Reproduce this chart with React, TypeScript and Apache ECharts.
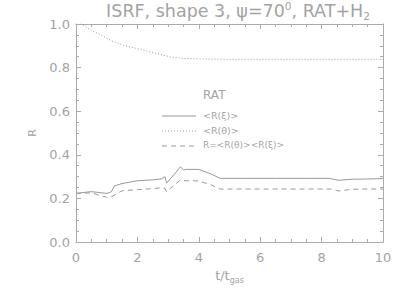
import React, { useEffect, useRef } from "react";
import * as echarts from "echarts";

const tXi = [0, 0.3, 0.5, 0.75, 1.0, 1.15, 1.25, 1.5, 2.0, 2.5, 2.8, 2.9, 2.95, 3.2, 3.4, 3.5, 3.6, 4.0, 4.4, 4.7, 5.5, 6.5, 7.5, 8.25, 8.55, 9.0, 9.5, 10];
const rXi = [0.223, 0.228, 0.231, 0.227, 0.223, 0.23, 0.257, 0.268, 0.281, 0.285, 0.29, 0.3, 0.27, 0.31, 0.345, 0.33, 0.333, 0.333, 0.312, 0.292, 0.292, 0.292, 0.292, 0.292, 0.283, 0.288, 0.289, 0.291];

const tTheta = [0, 0.15, 0.3, 0.5, 0.8, 1.2, 1.6, 2.1, 2.6, 3.1, 3.5, 4.0, 5, 6, 7, 8, 9, 10];
const rTheta = [1.02, 1.0, 0.99, 0.97, 0.95, 0.92, 0.9, 0.884, 0.866, 0.848, 0.842, 0.84, 0.838, 0.838, 0.838, 0.838, 0.838, 0.838];

const tR = [0, 0.3, 0.5, 0.75, 1.0, 1.2, 1.5, 2.0, 2.5, 2.8, 2.9, 2.95, 3.2, 3.4, 3.6, 4.0, 4.4, 4.7, 5.5, 6.5, 7.5, 8.3, 8.55, 9.0, 9.5, 10];
const rR = [0.223, 0.224, 0.226, 0.215, 0.205, 0.211, 0.235, 0.24, 0.245, 0.249, 0.245, 0.23, 0.262, 0.284, 0.281, 0.28, 0.262, 0.243, 0.243, 0.243, 0.243, 0.243, 0.234, 0.242, 0.243, 0.243];

const xTicks = [0, 2, 4, 6, 8, 10];
const yTicks = [0.0, 0.2, 0.4, 0.6, 0.8, 1.0];

const pairs = (t: number[], v: number[]) => t.map((x, i) => [x, v[i]]);

const AXC = "#ababab";
const TXT = "#a3a3a3";
const LINE = "#999999";
const FONT = "DejaVu Sans";

export default function App() {
  const ref = useRef<HTMLDivElement>(null);
  useEffect(() => {
    const chart = echarts.init(ref.current!, null, { renderer: "svg" });
    const baseAxis = {
      type: "value" as const,
      axisLine: { show: true, onZero: false, lineStyle: { color: AXC, width: 1 } },
      splitLine: { show: false },
      axisTick: { show: true, inside: true, length: 5, lineStyle: { color: AXC } },
      minorTick: { show: true, splitNumber: 4, length: 3, lineStyle: { color: AXC } },
    };
    chart.setOption({
      animation: false,
      backgroundColor: "#ffffff",
      grid: { left: 76, right: 24, top: 24, bottom: 49 },
      xAxis: [
        {
          ...baseAxis,
          min: 0,
          max: 10,
          interval: 2,
          axisLabel: { color: TXT, fontFamily: FONT, fontSize: 13, margin: 9 },
          name: "{a|t/t}{b|gas}",
          nameLocation: "middle",
          nameGap: 24,
          nameTextStyle: {
            rich: {
              a: { fontFamily: FONT, fontSize: 13, color: TXT, lineHeight: 18 },
              b: { fontFamily: FONT, fontSize: 8, color: TXT, verticalAlign: "bottom", lineHeight: 8 },
            },
          },
        },
        { ...baseAxis, position: "top", min: 0, max: 10, interval: 2, axisLabel: { show: false } },
      ],
      yAxis: [
        {
          ...baseAxis,
          min: 0,
          max: 1,
          interval: 0.2,
          axisLabel: {
            color: TXT,
            fontFamily: FONT,
            fontSize: 13,
            margin: 6,
            formatter: (v: number) => v.toFixed(1),
          },
          name: "R",
          nameLocation: "middle",
          nameGap: 38,
          nameTextStyle: { color: TXT, fontFamily: FONT, fontSize: 11 },
        },
        { ...baseAxis, position: "right", min: 0, max: 1, interval: 0.2, axisLabel: { show: false } },
      ],
      series: [
        {
          type: "line",
          data: pairs(tXi, rXi),
          showSymbol: false,
          lineStyle: { color: LINE, width: 1, type: "solid" },
          clip: true,
        },
        {
          type: "line",
          data: pairs(tTheta, rTheta),
          showSymbol: false,
          lineStyle: { color: LINE, width: 1, type: [1, 2] },
          clip: true,
        },
        {
          type: "line",
          data: pairs(tR, rR),
          showSymbol: false,
          lineStyle: { color: LINE, width: 1, type: [5, 4] },
          clip: true,
        },
      ],
      graphic: [
        {
          type: "text",
          x: 238,
          y: 0,
          style: {
            text: "{a|ISRF, shape 3, ψ=70}{s|0}{a|, RAT+H}{b|2}",
            align: "center",
            verticalAlign: "top",
            rich: {
              a: { fontFamily: FONT, fontSize: 17.5, fill: TXT, fontWeight: "normal", lineHeight: 21 },
              s: { fontFamily: FONT, fontSize: 10.5, fill: TXT, fontWeight: "normal", verticalAlign: "top", lineHeight: 12 },
              b: { fontFamily: FONT, fontSize: 10.5, fill: TXT, fontWeight: "normal", verticalAlign: "bottom", lineHeight: 10 },
            },
          },
        },
        { type: "text", left: 203, top: 89, style: { text: "RAT", fill: TXT, font: `12px ${FONT}` } },
        { type: "line", shape: { x1: 162, y1: 116, x2: 196, y2: 116 }, style: { stroke: LINE, lineWidth: 1 } },
        { type: "text", left: 203, top: 110, style: { text: "<R(ξ)>", fill: TXT, font: `9.5px ${FONT}` } },
        { type: "line", shape: { x1: 162, y1: 131, x2: 196, y2: 131 }, style: { stroke: LINE, lineWidth: 1, lineDash: [1, 2] } },
        { type: "text", left: 203, top: 125, style: { text: "<R(θ)>", fill: TXT, font: `9.5px ${FONT}` } },
        { type: "line", shape: { x1: 162, y1: 146, x2: 196, y2: 146 }, style: { stroke: LINE, lineWidth: 1, lineDash: [5, 4] } },
        { type: "text", left: 203, top: 140, style: { text: "R=<R(θ)><R(ξ)>", fill: TXT, font: `9px ${FONT}` } },
      ],
    });
    return () => chart.dispose();
  }, []);
  return <div ref={ref} style={{ width: 407, height: 291, position: "absolute", left: 0, top: 0 }} />;
}
